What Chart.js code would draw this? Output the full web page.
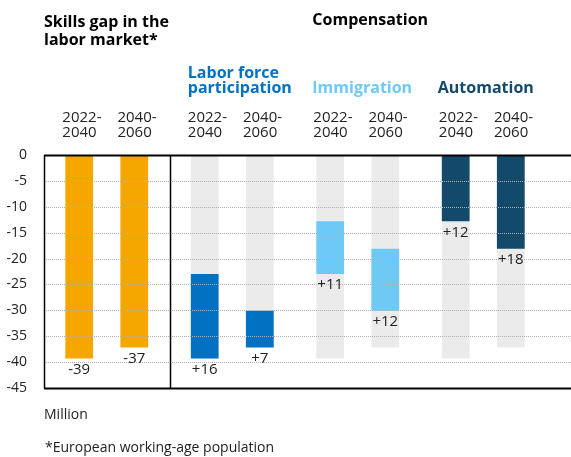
<!DOCTYPE html>
<html>
<head>
<meta charset="utf-8">
<script src="https://cdn.jsdelivr.net/npm/chart.js@4"></script>
<style>
  html, body { margin: 0; padding: 0; background: #fff; }
  #wrap { position: relative; width: 571px; height: 457px; }
</style>
</head>
<body>
<div id="wrap"><canvas id="skillsChart" width="571" height="457"></canvas></div>
<script>
const groups = ["Skills gap in the labor market*", "Labor force participation", "Immigration", "Automation"];
const periods = ["2022-2040", "2040-2060"];
const skillsGap = [-39.3, -37.2];
const laborForce = [16.3, 7.1];
const immigration = [10.2, 12.0];
const automation = [12.8, 18.1];
const labels2022 = ["-39", "+16", "+11", "+12"];
const labels2040 = ["-37", "+7", "+12", "+18"];
const yTicks = [0, -5, -10, -15, -20, -25, -30, -35, -40, -45];

const groupColors = ["#f5a700", "#0072c1", "#6ecaf5", "#134a6b"];
const FONT = "'Open Sans', sans-serif";

// floating ranges: gap filled from the bottom up by each compensation lever
function ranges(p) {
    const gap = skillsGap[p];
    const a = gap + laborForce[p];
    const b = a + immigration[p];
    return [[gap, 0], [gap, a], [a, b], [b, 0]];
}
function background(p) {
    return [null, [skillsGap[p], 0], [skillsGap[p], 0], [skillsGap[p], 0]];
}

const overlay = {
    id: "overlay",
    afterDatasetsDraw(chart) {
        const { ctx, chartArea, scales } = chart;
        const y = scales.y, x = scales.x;
        const W = chart.width;
        ctx.save();
        // horizontal grid lines, reaching the right edge
        yTicks.forEach(t => {
            const py = Math.round(y.getPixelForValue(t)) + 0.5;
            ctx.beginPath();
            if (t === 0 || t === -45) {
                ctx.strokeStyle = "#000";
                ctx.lineWidth = 2;
                ctx.setLineDash([]);
            } else {
                ctx.strokeStyle = "#b0b0b0";
                ctx.lineWidth = 1;
                ctx.setLineDash([1, 1]);
            }
            ctx.moveTo(chartArea.left, py);
            ctx.lineTo(W, py);
            ctx.stroke();
        });
        ctx.setLineDash([]);
        // left border and separator after the skills gap group
        ctx.strokeStyle = "#000";
        ctx.lineWidth = 1.5;
        const sx = Math.round((x.getPixelForValue(0) + x.getPixelForValue(1)) / 2) + 0.5;
        [Math.round(chartArea.left) + 0.5, sx].forEach(px => {
            ctx.beginPath();
            ctx.moveTo(px, y.getPixelForValue(0));
            ctx.lineTo(px, y.getPixelForValue(-45));
            ctx.stroke();
        });

        // value labels under each coloured bar
        ctx.fillStyle = "#222";
        ctx.font = "15px " + FONT;
        ctx.textAlign = "center";
        ctx.textBaseline = "middle";
        [labels2022, labels2040].forEach((lbls, p) => {
            chart.getDatasetMeta(p).data.forEach((bar, i) => {
                const bottom = Math.max(bar.y, bar.base);
                ctx.fillText(lbls[i], bar.x, bottom + 11);
            });
        });

        // period labels above each bar
        ctx.textAlign = "left";
        ctx.textBaseline = "alphabetic";
        ctx.fillStyle = "#222";
        [0, 1].forEach(p => {
            const [l1, l2] = periods[p].split("-");
            chart.getDatasetMeta(p).data.forEach(bar => {
                const left = bar.x - bar.width / 2 - 3;
                ctx.fillText(l1 + "-", left, 122);
                ctx.fillText(l2, left, 137);
            });
        });

        // group titles
        const left0 = chart.getDatasetMeta(0).data;
        ctx.font = "bold 16px " + FONT;
        ctx.fillStyle = "#000";
        ctx.fillText("Skills gap in the", 44, 27);
        ctx.fillText("labor market*", 44, 45);
        ctx.fillText("Compensation", left0[2].x - left0[2].width / 2 - 4, 25);
        ctx.fillStyle = groupColors[1];
        ctx.fillText("Labor force", left0[1].x - left0[1].width / 2 - 3, 78);
        ctx.fillText("participation", left0[1].x - left0[1].width / 2 - 3, 93);
        ctx.fillStyle = groupColors[2];
        ctx.fillText(groups[2], left0[2].x - left0[2].width / 2 - 4, 93);
        ctx.fillStyle = groupColors[3];
        ctx.fillText(groups[3], left0[3].x - left0[3].width / 2 - 4, 93);

        // unit and footnote
        ctx.font = "14px " + FONT;
        ctx.fillStyle = "#222";
        ctx.fillText("Million", 44, 419);
        ctx.fillText("*European working-age population", 45, 452);
        ctx.restore();
    }
};

new Chart(document.getElementById("skillsChart"), {
    type: "bar",
    data: {
        labels: groups,
        datasets: [
            { label: periods[0], data: ranges(0), stack: "p1", backgroundColor: groupColors },
            { label: periods[1], data: ranges(1), stack: "p2", backgroundColor: groupColors },
            { label: periods[0] + " gap", data: background(0), stack: "p1", backgroundColor: "#ebebeb" },
            { label: periods[1] + " gap", data: background(1), stack: "p2", backgroundColor: "#ebebeb" }
        ]
    },
    options: {
        responsive: false,
        animation: false,
        categoryPercentage: 0.878,
        barPercentage: 0.504,
        layout: {
            padding: { top: 155, bottom: 69, left: 0, right: 25 }
        },
        plugins: {
            legend: { display: false },
            tooltip: { enabled: false }
        },
        scales: {
            x: {
                display: false,
                stacked: true
            },
            y: {
                stacked: false,
                min: -45,
                max: 0,
                afterFit: s => { s.width = 44; },
                afterBuildTicks: s => { s.ticks = yTicks.map(v => ({ value: v })); },
                grid: { display: false },
                border: { display: false },
                ticks: {
                    color: "#222",
                    padding: 9,
                    font: { family: FONT, size: 14 }
                }
            }
        }
    },
    plugins: [overlay]
});
</script>
</body>
</html>
